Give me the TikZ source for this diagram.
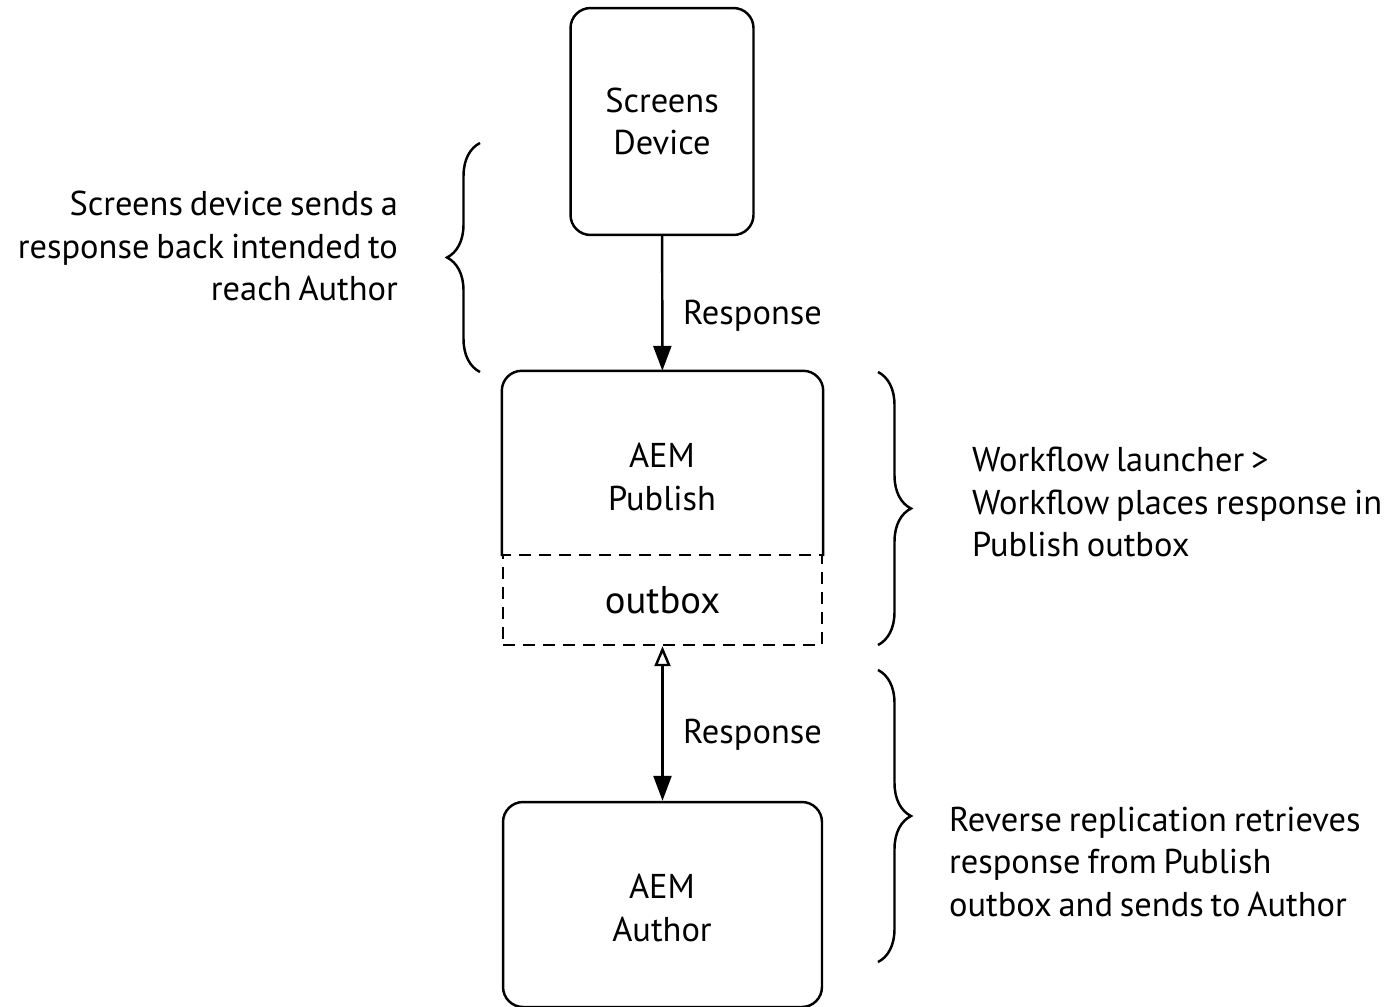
\documentclass[tikz,border=0pt]{standalone}
\usepackage{fontspec}
\setmainfont{PT Sans}[WordSpace=0.75]
\usetikzlibrary{arrows.meta, decorations.pathreplacing}

\begin{document}
\begin{tikzpicture}[x=0.02cm, y=-0.02cm, line width=1.4pt,
    font=\fontsize{19.6}{24.4}\selectfont,
    box/.style={draw, rounded corners=0.4cm, align=center, minimum width=6.38cm},
    lbl/.style={align=left, anchor=west},
    resp/.style={-{Triangle[length=0.5cm, width=0.36cm]}},
    curly/.style={decorate, decoration={brace, amplitude=0.66cm}}]
            \useasboundingbox (0,0) rectangle (1389,1007);
            \node[box, minimum width=3.66cm, minimum height=4.54cm] (screens) at (662,121.5) {Screens\\Device};
            \node[minimum width=6.38cm, minimum height=3.66cm] (publish) at (662.5,463.5) {};
            \draw[rounded corners=0.4cm] (publish.south west) -- (publish.north west) -- (publish.north east) -- (publish.south east);
            \node[align=center] (publishtext) at (662,477) {AEM\\Publish};
            \node[draw, dash pattern=on 0.24cm off 0.16cm, minimum width=6.38cm, minimum height=1.8cm, font=\fontsize{22}{24}\selectfont] (outbox) at (662.5,600) {outbox};
            \node[box, minimum height=4.1cm] (author) at (662.5,904.5) {};
            \node[align=center] (authortext) at (662,908) {AEM\\Author};
            % responses
            \draw[resp] (screens) -- (publish);
            \node[lbl] (resp1) at (676,316) {Response};
            \draw[{Triangle[open, length=0.4cm, width=0.32cm]}-{Triangle[length=0.5cm, width=0.36cm]}] (outbox) -- (author);
            \node[lbl] (resp2) at (676,735) {Response};
            % braces and notes
            \draw[curly] (480,372) -- (480,143);
            \node[align=right, anchor=east] (note1) at (405,246) {Screens device sends a\\response back intended to\\reach Author};
            \draw[curly] (878,372) -- (878,645);
            \node[lbl] (note2) at (965,502) {Workflow launcher >\\Workflow places response in\\Publish outbox};
            \draw[curly] (878,670) -- (878,962);
            \node[lbl] (note3) at (942,862) {Reverse replication retrieves\\response from Publish\\outbox and sends to Author};
        \end{tikzpicture}
\end{document}
